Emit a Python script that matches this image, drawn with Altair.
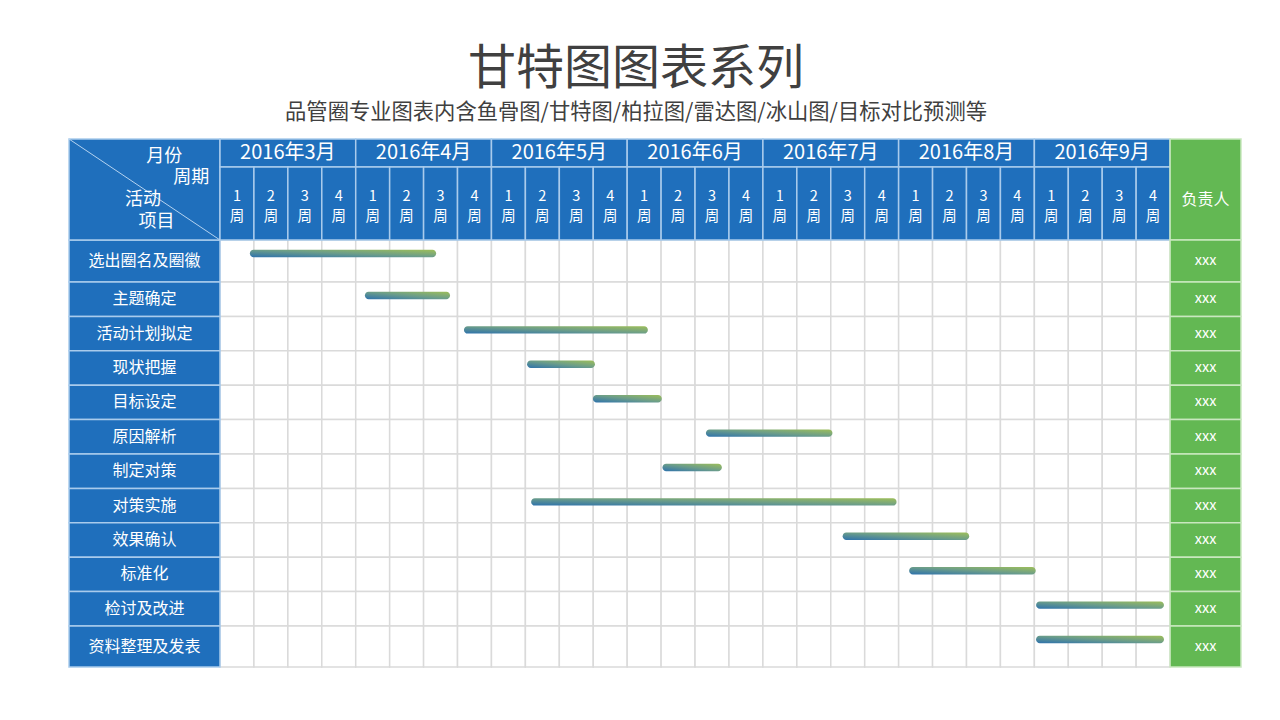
import altair as alt
import pandas as pd

# ---------------- data ----------------
TITLE = "甘特图图表系列"
SUBTITLE = "品管圈专业图表内含鱼骨图/甘特图/柏拉图/雷达图/冰山图/目标对比预测等"
MONTHS = ["2016年3月", "2016年4月", "2016年5月", "2016年6月", "2016年7月", "2016年8月", "2016年9月"]
WEEK_NUMBERS = ["1", "2", "3", "4"]
WEEK_WORD = "周"
TASKS = ["选出圈名及圈徽", "主题确定", "活动计划拟定", "现状把握", "目标设定", "原因解析",
         "制定对策", "对策实施", "效果确认", "标准化", "检讨及改进", "资料整理及发表"]
# start / end of each bar, in weeks from the first week of March 2016
STARTS = [0.88, 4.27, 7.19, 9.05, 10.99, 14.32, 13.04, 9.17, 18.35, 20.31, 24.05, 24.05]
ENDS = [6.37, 6.78, 12.61, 11.05, 13.02, 18.05, 14.79, 19.94, 22.08, 24.04, 27.82, 27.82]
OWNERS = ["xxx"] * 12
OWNER_HEADER = "负责人"
CORNER_LABELS = ["月份", "周期", "活动", "项目"]

# ---------------- layout ----------------
FONT = "Noto Sans CJK SC"
BLUE = "#1F6FBC"
BLUE_LINE = "#A9CBEC"
GREEN = "#63B853"
GREEN_LINE = "#C9E7BF"
GRID = "#DADADA"

N_WEEKS = len(MONTHS) * len(WEEK_NUMBERS)
LABEL_COL = 4.45      # label column width, in week units
OWNER_COL = 2.09      # owner column width, in week units
MONTH_ROW_H = 28
WEEK_ROW_H = 73
HEADER_H = MONTH_ROW_H + WEEK_ROW_H
ROW_H = [42] + [34.4] * 10 + [41]
TOTAL_H = HEADER_H + sum(ROW_H)
BAR_OFFSET = 13.5     # bar centre below row top
BAR_HALF = 3.7

row_tops = []
acc = HEADER_H
for h in ROW_H:
    row_tops.append(acc)
    acc += h

xs = alt.Scale(domain=[-LABEL_COL, N_WEEKS + OWNER_COL], nice=False, zero=False)
ys = alt.Scale(domain=[0, TOTAL_H], reverse=True, nice=False, zero=False)


def enc_rect(ch):
    return ch.encode(
        x=alt.X("x0:Q", scale=xs, axis=None),
        x2="x1:Q",
        y=alt.Y("y0:Q", scale=ys, axis=None),
        y2="y1:Q",
    )


def enc_text(ch):
    return ch.encode(
        x=alt.X("xc:Q", scale=xs, axis=None),
        y=alt.Y("yc:Q", scale=ys, axis=None),
        text="label:N",
    )


# grid cells
grid_df = pd.DataFrame([
    {"x0": c, "x1": c + 1, "y0": row_tops[r], "y1": row_tops[r] + ROW_H[r]}
    for r in range(len(TASKS)) for c in range(N_WEEKS)
])
grid = enc_rect(alt.Chart(grid_df).mark_rect(fill="white", stroke=GRID, strokeWidth=1.5))

# label column cells
lab_df = pd.DataFrame([
    {"x0": -LABEL_COL, "x1": 0, "y0": row_tops[r], "y1": row_tops[r] + ROW_H[r],
     "xc": -LABEL_COL / 2, "yc": row_tops[r] + ROW_H[r] / 2, "label": t}
    for r, t in enumerate(TASKS)
])
lab_cells = enc_rect(alt.Chart(lab_df).mark_rect(fill=BLUE, stroke=BLUE_LINE, strokeWidth=1.5))
lab_text = enc_text(alt.Chart(lab_df).mark_text(font=FONT, fontSize=16, color="white"))

# header cells
corner_df = pd.DataFrame([{"x0": -LABEL_COL, "x1": 0, "y0": 0, "y1": HEADER_H}])
corner = enc_rect(alt.Chart(corner_df).mark_rect(fill=BLUE, stroke=BLUE_LINE, strokeWidth=1.5))

month_df = pd.DataFrame([
    {"x0": i * 4, "x1": i * 4 + 4, "y0": 0, "y1": MONTH_ROW_H,
     "xc": i * 4 + 2, "yc": MONTH_ROW_H / 2, "label": m}
    for i, m in enumerate(MONTHS)
])
month_cells = enc_rect(alt.Chart(month_df).mark_rect(fill=BLUE, stroke=BLUE_LINE, strokeWidth=1.5))
month_text = enc_text(alt.Chart(month_df).mark_text(font=FONT, fontSize=20, color="white"))

week_df = pd.DataFrame([
    {"x0": c, "x1": c + 1, "y0": MONTH_ROW_H, "y1": HEADER_H,
     "xc": c + 0.5, "yc": MONTH_ROW_H + WEEK_ROW_H / 2 - 6.5,
     "label": WEEK_NUMBERS[c % 4] + "\n" + WEEK_WORD}
    for c in range(N_WEEKS)
])
week_cells = enc_rect(alt.Chart(week_df).mark_rect(fill=BLUE, stroke=BLUE_LINE, strokeWidth=1.5))
week_text = enc_text(alt.Chart(week_df).mark_text(font=FONT, fontSize=14.5, color="white",
                                                  lineBreak="\n", lineHeight=20))

# owner column
own_head_df = pd.DataFrame([{"x0": N_WEEKS, "x1": N_WEEKS + OWNER_COL, "y0": 0, "y1": HEADER_H,
                             "xc": N_WEEKS + OWNER_COL / 2, "yc": MONTH_ROW_H + WEEK_ROW_H / 2 - 4,
                             "label": OWNER_HEADER}])
own_head = enc_rect(alt.Chart(own_head_df).mark_rect(fill=GREEN, stroke=GREEN_LINE, strokeWidth=1.5))
own_head_text = enc_text(alt.Chart(own_head_df).mark_text(font=FONT, fontSize=16, color="white"))

own_df = pd.DataFrame([
    {"x0": N_WEEKS, "x1": N_WEEKS + OWNER_COL, "y0": row_tops[r], "y1": row_tops[r] + ROW_H[r],
     "xc": N_WEEKS + OWNER_COL / 2, "yc": row_tops[r] + ROW_H[r] / 2, "label": o}
    for r, o in enumerate(OWNERS)
])
own_cells = enc_rect(alt.Chart(own_df).mark_rect(fill=GREEN, stroke=GREEN_LINE, strokeWidth=1.5))
own_text = enc_text(alt.Chart(own_df).mark_text(font=FONT, fontSize=14.5, color="white"))

# corner diagonal and labels
diag_df = pd.DataFrame([{"x0": -LABEL_COL, "x1": 0, "y0": 0, "y1": HEADER_H}])
diag = alt.Chart(diag_df).mark_rule(color="#B5D3F0", strokeWidth=1).encode(
    x=alt.X("x0:Q", scale=xs, axis=None), x2="x1:Q",
    y=alt.Y("y0:Q", scale=ys, axis=None), y2="y1:Q")

corner_pos = [(0.63, 0.175), (0.81, 0.385), (0.49, 0.605), (0.58, 0.825)]
corner_lab_df = pd.DataFrame([
    {"xc": -LABEL_COL + fx * LABEL_COL, "yc": fy * HEADER_H, "label": t}
    for t, (fx, fy) in zip(CORNER_LABELS, corner_pos)
])
corner_text = enc_text(alt.Chart(corner_lab_df).mark_text(font=FONT, fontSize=18, color="white"))

# bars
bar_df = pd.DataFrame([
    {"x0": s, "x1": e, "y0": row_tops[r] + BAR_OFFSET - BAR_HALF, "y1": row_tops[r] + BAR_OFFSET + BAR_HALF,
     "task": TASKS[r]}
    for r, (s, e) in enumerate(zip(STARTS, ENDS))
])
bars = enc_rect(alt.Chart(bar_df).mark_bar(
    cornerRadius=3.7,
    color=alt.Gradient(
        gradient="linear",
        stops=[alt.GradientStop(color="#2E72AC", offset=0),
               alt.GradientStop(color="#6B9D8A", offset=0.5),
               alt.GradientStop(color="#9DBE5A", offset=1)],
        x1=0, x2=1, y1=1, y2=0,
    ),
))

chart = alt.layer(
    grid, lab_cells, corner, month_cells, week_cells, own_head, own_cells,
    diag, lab_text, month_text, week_text, own_head_text, own_text, corner_text, bars,
).properties(
    width=1172,
    height=528,
    padding={"left": 61, "top": 131, "right": 31, "bottom": 45},
    autosize=alt.AutoSizeParams(type="none"),
    background="white",
    title=alt.Title(
        text=TITLE, subtitle=SUBTITLE,
        font=FONT, fontSize=48, fontWeight="normal", color="#404040",
        subtitleFont=FONT, subtitleFontSize=21.3, subtitleColor="#404040",
        anchor="middle", offset=15, subtitlePadding=8, dx=-19,
    ),
).configure_view(stroke=None)

chart.save("out.html", embed_options={"renderer": "svg", "actions": False})
